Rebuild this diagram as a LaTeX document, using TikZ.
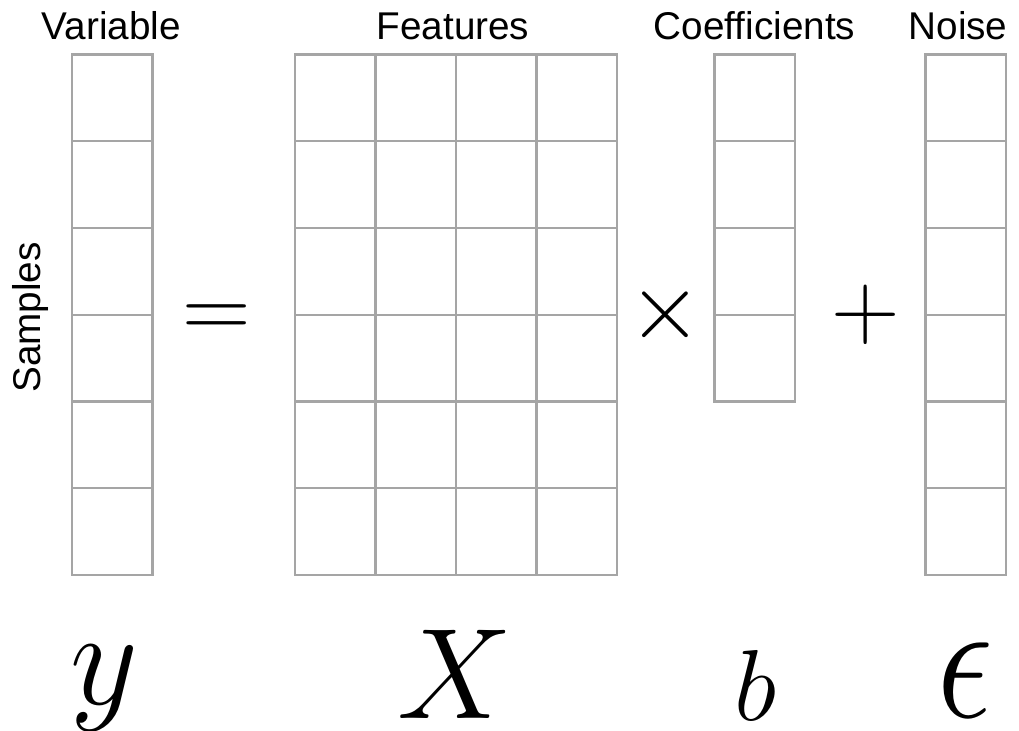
\documentclass[tikz,border=0pt]{standalone}
\usepackage{fix-cm}
\usepackage{fontspec}
\usepackage{graphicx}
\newfontfamily\labelfont{Liberation Sans}
\definecolor{gridgray}{RGB}{165,165,165}
\tikzset{
 cell/.style={draw=gridgray, line width=0.6pt},
 lbl/.style={font=\labelfont\fontsize{11}{13}\selectfont, anchor=base, inner sep=0pt},
 op/.style={font=\fontsize{27}{30}\selectfont, anchor=base, inner sep=0pt},
 sym/.style={inner sep=0pt}
}

\begin{document}
\begin{tikzpicture}[x=0.01cm,y=-0.01cm]
 \useasboundingbox (0,0) rectangle (1019,731);
 \foreach \r in {0,...,5}
  \draw[cell] (72,54.5+86.75*\r) rectangle (152.5,141.25+86.75*\r);
 \foreach \c in {0,...,3}
  \foreach \r in {0,...,5}
   \draw[cell] (295+80.5*\c,54.5+86.75*\r) rectangle (375.5+80.5*\c,141.25+86.75*\r);
 \foreach \r in {0,...,3}
  \draw[cell] (714.5,54.5+86.75*\r) rectangle (795,141.25+86.75*\r);
 \foreach \r in {0,...,5}
  \draw[cell] (925.5,54.5+86.75*\r) rectangle (1006,141.25+86.75*\r);

 \node[lbl] (variable) at (111.5,40) {Variable};
 \node[lbl] (features) at (453,40) {Features};
 \node[lbl] (coeffs) at (754.5,40) {Coefficients};
 \node[lbl] (noise) at (958,40) {Noise};
 \node[lbl, rotate=90] (samples) at (41,317.5) {Samples};

 \node[op] (equals) at (216.5,338.75) {$=$};
 \node[op] (times) at (665,339) {$\times$};
 \node[op] (plus) at (866,338.5) {$+$};

 \node[sym] (yvec) at (104,688) {\fontsize{37.5}{40}\selectfont\scalebox{1}[1.04]{$y$}};
 \node[sym] (xmat) at (455,674) {\fontsize{36.7}{40}\selectfont$X$};
 \node[sym] (bvec) at (755,685) {\fontsize{28.7}{32}\selectfont$b$};
 \node[sym] (eps) at (965,680.5) {\fontsize{40}{44}\selectfont\scalebox{1}[1.23]{$\epsilon$}};
\end{tikzpicture}
\end{document}
